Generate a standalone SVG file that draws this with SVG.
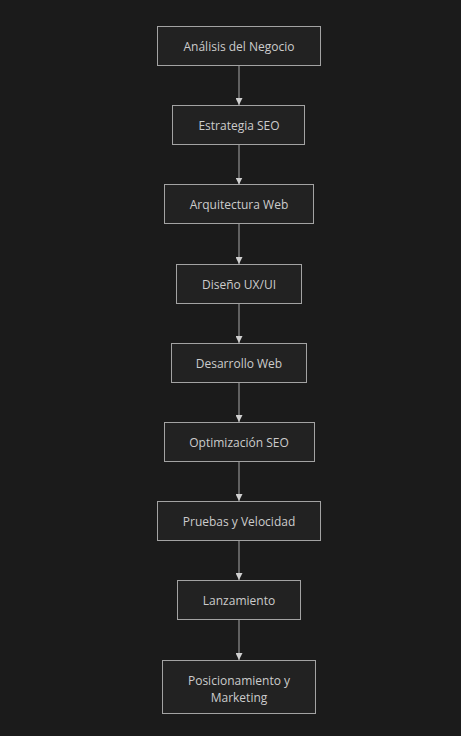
<svg xmlns="http://www.w3.org/2000/svg" width="461" height="736" viewBox="0 0 461 736">
<style>
.bg{fill:#1b1b1b}
.node rect{fill:#222222;stroke:#a3a3a3;stroke-width:1}
.node text{fill:#cccccc;font-family:"Open Sans","DejaVu Sans",sans-serif;font-size:12px;text-anchor:middle}
.edge{stroke:#a8a8a8;stroke-width:1;fill:none;marker-end:url(#arr)}
</style>
<defs>
<marker id="arr" viewBox="0 0 10 10" refX="10" refY="5" markerWidth="7" markerHeight="7" markerUnits="userSpaceOnUse" orient="auto">
<path d="M0,0 L10,5 L0,10 z" fill="#d0d0d0"/>
</marker>
</defs>
<rect class="bg" width="461" height="736"/>
<g id="connectors">
<path class="edge" d="M239,65.5 V105"/>
<path class="edge" d="M239,144.5 V184.5"/>
<path class="edge" d="M239,224 V264"/>
<path class="edge" d="M239,303 V343"/>
<path class="edge" d="M239,382.5 V422"/>
<path class="edge" d="M239,461.5 V501"/>
<path class="edge" d="M239,540.5 V580"/>
<path class="edge" d="M239,619.5 V660"/>
</g>
<g id="n1" class="node"><rect x="157.5" y="26.5" width="163" height="39"/><text x="239" y="50.5">Análisis del Negocio</text></g>
<g id="n2" class="node"><rect x="172.5" y="105.5" width="132" height="39"/><text x="239" y="129.5">Estrategia SEO</text></g>
<g id="n3" class="node"><rect x="164.5" y="184.5" width="149" height="39"/><text x="239" y="208.5">Arquitectura Web</text></g>
<g id="n4" class="node"><rect x="176.5" y="264.5" width="125" height="39"/><text x="239" y="288.5">Diseño UX/UI</text></g>
<g id="n5" class="node"><rect x="171.5" y="343.5" width="135" height="39"/><text x="239" y="367.5">Desarrollo Web</text></g>
<g id="n6" class="node"><rect x="164.5" y="422.5" width="150" height="39"/><text x="239" y="446.5">Optimización SEO</text></g>
<g id="n7" class="node"><rect x="157.5" y="501.5" width="163" height="39"/><text x="239" y="525.5">Pruebas y Velocidad</text></g>
<g id="n8" class="node"><rect x="177.5" y="580.5" width="123" height="39"/><text x="239" y="604.5">Lanzamiento</text></g>
<g id="n9" class="node"><rect x="162.5" y="660.5" width="153" height="53"/><text x="239" y="685"><tspan x="239" y="685">Posicionamiento y</tspan><tspan x="239" y="701.5">Marketing</tspan></text></g>
</svg>
